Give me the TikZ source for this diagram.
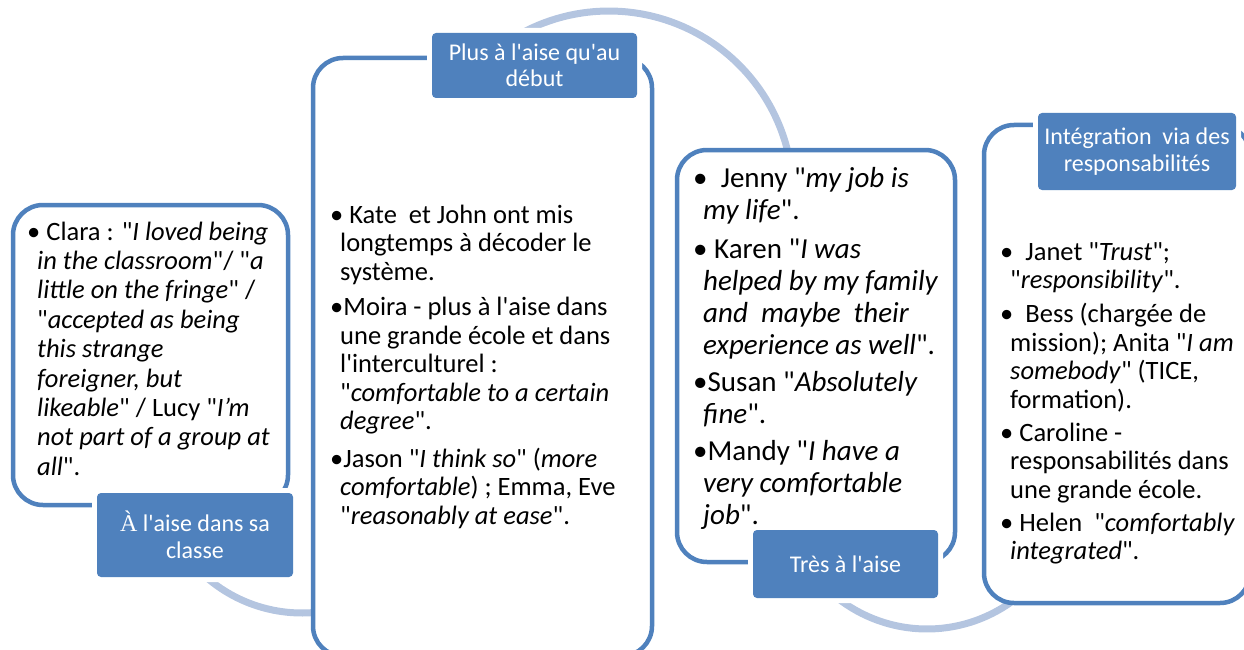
\documentclass[tikz,border=0pt]{standalone}
\usepackage{fontspec}
\setmainfont{Carlito}[Ligatures=TeXOff]
\newfontfamily\accentfont{Liberation Serif}
\usepackage{tikz}
\usetikzlibrary{positioning}

\definecolor{boxblue}{HTML}{4F81BD}
\definecolor{arcblue}{HTML}{B4C5E0}
\newcommand{\ind}{\hspace*{10pt}}
\newcommand{\lines}[1]{\begin{tabular}[t]{@{}l@{}}#1\end{tabular}}

\tikzset{
	stagebox/.style={draw=boxblue, line width=4.5pt, fill=white, rounded corners=30pt},
	stagelabel/.style={fill=boxblue, text=white, rounded corners=4pt, inner sep=0pt, align=center,
		preaction={draw=white, line width=10pt}, font=\fontsize{24}{26.5}\selectfont},
	arcline/.style={draw=arcblue, line width=7pt},
	bullets/.style={anchor=base west, inner sep=0pt}
}

\begin{document}
\begin{tikzpicture}[x=1pt, y=-1pt]
	\useasboundingbox (0,0) rectangle (1244,650);
	% arc behind the boxes
	\draw[arcline] plot[domain=80:135, samples=40] ({302+146*cos(\x)}, {467+146*sin(\x)});
	\draw[arcline] plot[domain=-125:-5, samples=60] ({609+184*cos(\x)}, {195+184*sin(\x)});
	\draw[arcline] plot[domain=45:135, samples=40] ({927+145*cos(\x)}, {484+145*sin(\x)});

	\node[stagebox, minimum width=275pt, minimum height=300pt] (box1) at (150.5,355) {};
	\node[stagebox, minimum width=339pt, minimum height=598pt] (box2) at (482.5,357) {};
	\node[stagebox, minimum width=278pt, minimum height=412pt] (box3) at (816,356) {};
	\node[stagebox, minimum width=266pt, minimum height=478pt] (box4) at (1117,364) {};

	\node[bullets, font=\fontsize{26.5}{29.4}\selectfont] (clara) at (27,240) {\lines{
		•\ Clara : "\textit{I loved being}\\
		\ind\textit{in the classroom}"/ "\textit{a}\\
		\ind\textit{little on the fringe}" /\\
		\ind"\textit{accepted as being}\\
		\ind\textit{this strange}\\
		\ind\textit{foreigner, but}\\
		\ind\textit{likeable}" / Lucy "\textit{I’m}\\
		\ind\textit{not part of a group at}\\
		\ind\textit{all}".}};

	\node[bullets, font=\fontsize{26.5}{28.5}\selectfont] (kate) at (330,223) {\lines{
		•\ Kate\ \ et John ont mis\\
		\ind longtemps à décoder le\\
		\ind système.\\[7pt]
		•Moira - plus à l'aise dans\\
		\ind une grande école et dans\\
		\ind l'interculturel :\\
		\ind"\textit{comfortable to a certain}\\
		\ind\textit{degree}".\\[9pt]
		•Jason "\textit{I think so}" (\textit{more}\\
		\ind\textit{comfortable}) ; Emma, Eve\\
		\ind"\textit{reasonably at ease}".}};

	\node[bullets, font=\fontsize{29}{32}\selectfont] (jenny) at (693,187) {\lines{
		•\ \ Jenny "\textit{my job is}\\
		\ind\textit{my life}".\\[7pt]
		•\ Karen "\textit{I was}\\
		\ind\textit{helped by my family}\\
		\ind\textit{and\ \ maybe\ \ their}\\
		\ind\textit{experience as well}".\\[5pt]
		•Susan "\textit{Absolutely}\\
		\ind\textit{fine}".\\[5pt]
		•Mandy "\textit{I have a}\\
		\ind\textit{very comfortable}\\
		\ind\textit{job}".}};

	\node[bullets, font=\fontsize{26.5}{28.5}\selectfont] (janet) at (1000,260) {\lines{
		•\ \ Janet "\textit{Trust}";\\
		\ind"\textit{responsibility}".\\[5.5pt]
		•\ \ Bess (chargée de\\
		\ind mission); Anita "\textit{I am}\\
		\ind\textit{somebody}" (TICE,\\
		\ind formation).\\[4.5pt]
		•\ Caroline -\\
		\ind responsabilités dans\\
		\ind une grande école.\\[4.5pt]
		•\ Helen\ \ "\textit{comfortably}\\
		\ind\textit{integrated}".}};

	\node[stagelabel, minimum width=196pt, minimum height=84pt] (lab1) at (195,535) {{\accentfont À} l'aise dans sa\\classe};
	\node[stagelabel, minimum width=205pt, minimum height=65pt] (lab2) at (534.5,65.5) {Plus à l'aise qu'au\\début};
	\node[stagelabel, minimum width=185pt, minimum height=68pt] (lab3) at (845.5,564) {Très à l'aise};
	\node[stagelabel, minimum width=198pt, minimum height=77pt] (lab4) at (1137,151.5) {Intégration\ \ via des\\responsabilités};
\end{tikzpicture}
\end{document}
